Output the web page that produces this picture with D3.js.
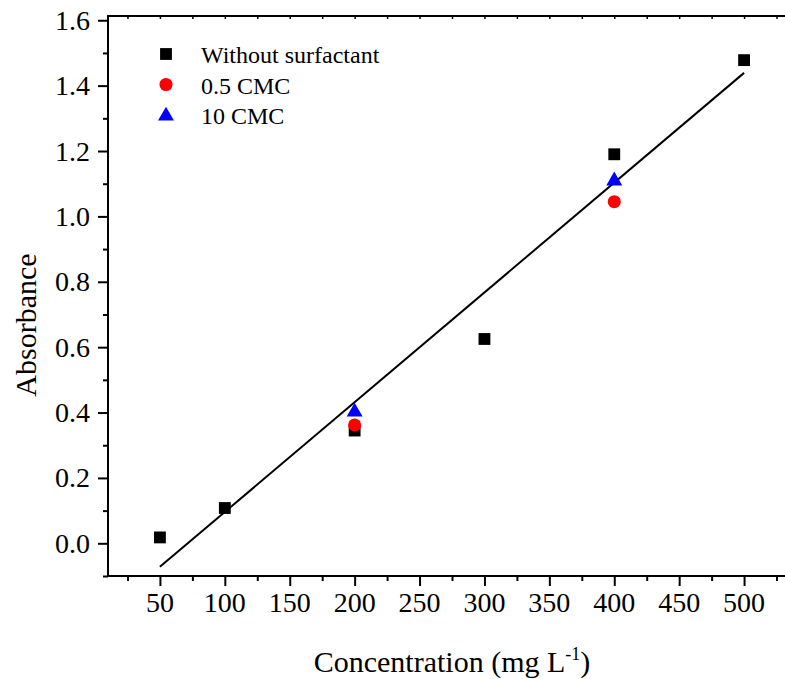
<!DOCTYPE html>
<html><head><meta charset="utf-8">
<script src="https://cdn.jsdelivr.net/npm/d3@7"></script>
<style>body{margin:0;background:#fff}svg{display:block}</style>
</head><body>
<script>
const xWithout = [50, 100, 200, 300, 400, 500];
const yWithout = [0.018, 0.108, 0.345, 0.625, 1.19, 1.478];
const xHalfCMC = [200, 400];
const yHalfCMC = [0.362, 1.045];
const xTenCMC = [200, 400];
const yTenCMC = [0.405, 1.112];
const fitX = [50, 500];
const fitY = [-0.072, 1.439];
const xTicks = [50, 100, 150, 200, 250, 300, 350, 400, 450, 500];
const yTicks = [0.0, 0.2, 0.4, 0.6, 0.8, 1.0, 1.2, 1.4, 1.6];
const legendLabels = ["Without surfactant", "0.5 CMC", "10 CMC"];

const W = 785, H = 679;
const FONT = "Liberation Serif, Times New Roman, serif";
const m = {left: 108, top: 16, right: -11, bottom: 103};
const svg = d3.select("body").append("svg").attr("width", W).attr("height", H)
  .attr("font-family", FONT);
const x = d3.scaleLinear().domain([10, 540]).range([m.left, W - m.right]);
const y = d3.scaleLinear().domain([-0.1, 1.613]).range([H - m.bottom, m.top]);

const g = svg.append("g");
g.append("rect").attr("x", x(10)).attr("y", y(1.613)).attr("width", x(540) - x(10)).attr("height", y(-0.1) - y(1.613))
  .attr("fill", "none").attr("stroke", "#000").attr("stroke-width", 2);

// x axis ticks
const xMinor = d3.range(25, 540, 25).filter(v => !xTicks.includes(v));
const xAx = g.append("g").attr("transform", `translate(0,${y(-0.1)})`)
  .call(d3.axisBottom(x).tickValues(xTicks).tickFormat("").tickSize(10));
xAx.select(".domain").remove();
xAx.selectAll("line").attr("stroke-width", 2);
const xAxm = g.append("g").attr("transform", `translate(0,${y(-0.1)})`)
  .call(d3.axisBottom(x).tickValues(xMinor).tickFormat("").tickSize(5));
xAxm.select(".domain").remove();
xAxm.selectAll("line").attr("stroke-width", 2);
const topAx = g.append("g").attr("transform", `translate(0,${y(1.613)})`)
  .call(d3.axisBottom(x).tickValues(d3.range(25, 540, 25)).tickFormat("").tickSize(3));
topAx.select(".domain").remove();
topAx.selectAll("line").attr("stroke-width", 1.5);
// x labels
svg.append("g").selectAll("text").data(xTicks).join("text")
  .attr("x", d => x(d)).attr("y", y(-0.1) + 36).attr("text-anchor", "middle")
  .attr("font-family", FONT).attr("font-size", 28).attr("fill", "#000").text(d3.format("d"));

// y axis ticks
const yMinor = d3.range(-0.1, 1.61, 0.2).map(v => +v.toFixed(1));
const yAx = g.append("g").attr("transform", `translate(${x(10)},0)`)
  .call(d3.axisLeft(y).tickValues(yTicks).tickFormat("").tickSize(10));
yAx.select(".domain").remove();
yAx.selectAll("line").attr("stroke-width", 2);
const yAxm = g.append("g").attr("transform", `translate(${x(10)},0)`)
  .call(d3.axisLeft(y).tickValues(yMinor).tickFormat("").tickSize(5));
yAxm.select(".domain").remove();
yAxm.selectAll("line").attr("stroke-width", 2);
svg.append("g").selectAll("text").data(yTicks).join("text")
  .attr("x", x(10) - 18).attr("y", d => y(d) + 9.5).attr("text-anchor", "end")
  .attr("font-family", FONT).attr("font-size", 28).attr("fill", "#000").text(d3.format(".1f"));

// fit line
g.append("line").attr("x1", x(fitX[0])).attr("y1", y(fitY[0])).attr("x2", x(fitX[1])).attr("y2", y(fitY[1]))
  .attr("stroke", "#000").attr("stroke-width", 2);

const sq = d3.symbol().type(d3.symbolSquare).size(140);
const ci = d3.symbol().type(d3.symbolCircle).size(135);
const tr = d3.symbol().type(d3.symbolTriangle).size(110);

g.selectAll(".s").data(xWithout.map((v, i) => [v, yWithout[i]])).join("path")
  .attr("d", sq).attr("transform", d => `translate(${x(d[0])},${y(d[1])})`).attr("fill", "#000");
g.selectAll(".c").data(xHalfCMC.map((v, i) => [v, yHalfCMC[i]])).join("path")
  .attr("d", ci).attr("transform", d => `translate(${x(d[0])},${y(d[1])})`).attr("fill", "#ff0000");
g.selectAll(".t").data(xTenCMC.map((v, i) => [v, yTenCMC[i]])).join("path")
  .attr("d", tr).attr("transform", d => `translate(${x(d[0])},${y(d[1]) + 1})`).attr("fill", "#0000ff");

// legend
const leg = svg.append("g");
const syms = [[sq, "#000"], [ci, "#ff0000"], [tr, "#0000ff"]];
legendLabels.forEach((t, i) => {
  const ly = 54 + i * 30.5;
  leg.append("path").attr("d", syms[i][0]).attr("transform", `translate(166,${ly + (i === 2 ? 1 : 0)})`).attr("fill", syms[i][1]);
  leg.append("text").attr("x", 201).attr("y", ly + 9).text(t)
    .attr("font-family", FONT).attr("font-size", 24).attr("fill", "#000");
});

// axis titles
svg.append("text").attr("transform", `translate(36,325) rotate(-90)`)
  .attr("text-anchor", "middle").attr("font-family", FONT).attr("font-size", 30).text("Absorbance");
const xt = svg.append("text").attr("x", 452).attr("y", 672).attr("text-anchor", "middle")
  .attr("font-family", FONT).attr("font-size", 30);
xt.append("tspan").text("Concentration (mg L");
xt.append("tspan").attr("dy", -12).attr("font-size", 18).text("-1");
xt.append("tspan").attr("dy", 12).text(")");
</script>
</body></html>
